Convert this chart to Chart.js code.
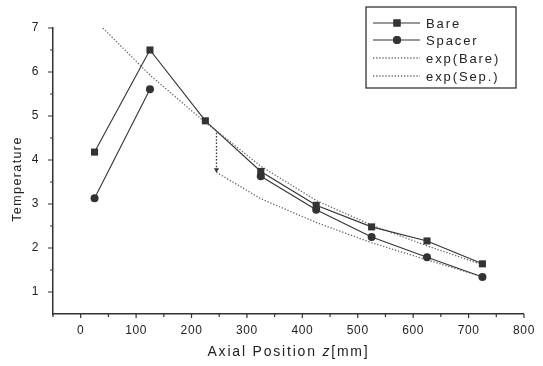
<!DOCTYPE html>
<html><head><meta charset="utf-8">
<script src="https://cdn.jsdelivr.net/npm/chart.js@4/dist/chart.umd.min.js"></script>
<style>html,body{margin:0;padding:0;background:#fff}canvas{display:block}</style>
</head><body>
<canvas id="c" width="543" height="366"></canvas>
<script>
// ---- data ----
const positions   = [25, 125, 225, 325, 425, 525, 625, 725];
const bareTemp    = [4.18, 6.50, 4.89, 3.74, 2.97, 2.48, 2.16, 1.64];
const spacerTemp  = [3.13, 5.61, null, 3.63, 2.87, 2.25, 1.79, 1.34];
const expBareX    = [40, 125, 225, 245, 325, 425, 525, 625, 725];
const expBareY    = [7.00, 5.93, 4.85, 4.66, 3.86, 3.08, 2.52, 2.05, 1.62];
const expSepX     = [245, 325, 425, 525, 625, 725];
const expSepY     = [3.72, 3.12, 2.58, 2.12, 1.73, 1.35];
const arrowX      = [245, 245];
const arrowY      = [4.62, 3.78];
const xMajorTicks = [0, 100, 200, 300, 400, 500, 600, 700, 800];
const xMinorTicks = [-50, 50, 150, 250, 350, 450, 550, 650, 750];
const yMajorTicks = [1, 2, 3, 4, 5, 6, 7];
const yMinorTicks = [1.5, 2.5, 3.5, 4.5, 5.5, 6.5];
const seriesNames = ['Bare', 'Spacer', 'exp(Bare)', 'exp(Sep.)'];

const FONT = '"Liberation Sans", Arial, Helvetica, sans-serif';
const pts = (xs, ys) => xs.map((x, i) => ({x, y: ys[i]}));

const axisDecor = {
  id: 'axisDecor',
  beforeDraw(chart) { chart.ctx.letterSpacing = '0.6px'; },
  afterDraw(chart) {
    const ctx = chart.ctx, xs = chart.scales.x, ys = chart.scales.y;
    const a = chart.chartArea;
    ctx.save();
    ctx.strokeStyle = '#333'; ctx.lineWidth = 1.2;
    ctx.beginPath();
    xMajorTicks.forEach(v => { const p = xs.getPixelForValue(v); ctx.moveTo(p, a.bottom); ctx.lineTo(p, a.bottom + 4); });
    xMinorTicks.forEach(v => { const p = xs.getPixelForValue(v); ctx.moveTo(p, a.bottom - 1); ctx.lineTo(p, a.bottom + 3); });
    yMajorTicks.forEach(v => { const p = ys.getPixelForValue(v); ctx.moveTo(a.left, p); ctx.lineTo(a.left - 5, p); });
    yMinorTicks.forEach(v => { const p = ys.getPixelForValue(v); ctx.moveTo(a.left, p); ctx.lineTo(a.left - 3, p); });
    ctx.stroke();
    // axis titles
    ctx.fillStyle = '#222';
    ctx.textBaseline = 'middle';
    ctx.letterSpacing = '1.8px';
    const parts = [['Axial Position ', 'normal'], ['z', 'italic'], ['[mm]', 'normal']];
    let total = 0;
    parts.forEach(([t, s]) => { ctx.font = s + ' 14px ' + FONT; total += ctx.measureText(t).width; });
    let x0 = (a.left + a.right) / 2 - total / 2;
    ctx.textAlign = 'left';
    parts.forEach(([t, s]) => { ctx.font = s + ' 14px ' + FONT; ctx.fillText(t, x0, 352); x0 += ctx.measureText(t).width; });
    ctx.save();
    ctx.translate(18, (a.top + a.bottom) / 2 + 8);
    ctx.rotate(-Math.PI / 2);
    ctx.textAlign = 'center';
    ctx.letterSpacing = '1.4px';
    ctx.font = '12.5px ' + FONT;
    ctx.fillText('Temperature', 0, 0);
    ctx.restore();
    // legend box
    const bx = 366, by = 7, bw = 150, bh = 81;
    ctx.strokeStyle = '#333'; ctx.lineWidth = 1.3;
    ctx.strokeRect(bx, by, bw, bh);
    const rows = [23, 40, 58, 76];
    ctx.font = '13px ' + FONT; ctx.letterSpacing = '1.9px';
    chart.data.datasets.slice(0, 4).forEach((ds, i) => {
      const ry = rows[i];
      ctx.save();
      ctx.strokeStyle = ds.borderColor; ctx.lineWidth = ds.borderWidth;
      ctx.setLineDash(ds.borderDash || []);
      ctx.beginPath(); ctx.moveTo(373, ry); ctx.lineTo(420, ry); ctx.stroke();
      ctx.restore();
      if (ds.pointRadius > 0) {
        ctx.save(); ctx.fillStyle = ds.pointBackgroundColor;
        Chart.helpers.drawPoint(ctx, {pointStyle: ds.pointStyle, radius: ds.pointRadius, borderWidth: 0}, 397, ry);
        ctx.fill();
        ctx.restore();
      }
      ctx.fillStyle = '#222';
      ctx.fillText(ds.label, 426, ry + 1);
    });
    ctx.restore();
  }
};

new Chart(document.getElementById('c'), {
  type: 'scatter',
  data: {
    datasets: [
      { label: seriesNames[0], data: pts(positions, bareTemp), showLine: true,
        borderColor: '#333', borderWidth: 1.1, pointStyle: 'rect', pointRadius: 5,
        pointBackgroundColor: '#333', pointBorderWidth: 0, spanGaps: false },
      { label: seriesNames[1], data: pts(positions, spacerTemp), showLine: true,
        borderColor: '#333', borderWidth: 1.1, pointStyle: 'circle', pointRadius: 4,
        pointBackgroundColor: '#333', pointBorderWidth: 0, spanGaps: false },
      { label: seriesNames[2], data: pts(expBareX, expBareY), showLine: true,
        borderColor: '#666', borderWidth: 1.3, borderDash: [1.3, 1.8], pointRadius: 0 },
      { label: seriesNames[3], data: pts(expSepX, expSepY), showLine: true,
        borderColor: '#666', borderWidth: 1.3, borderDash: [1.3, 1.8], pointRadius: 0 },
      { label: 'arrow', data: pts(arrowX, arrowY), showLine: true,
        borderColor: '#333', borderWidth: 1.3, borderDash: [1.5, 1.8],
        pointStyle: 'triangle', pointRadius: [0, 3], pointRotation: 180,
        pointBackgroundColor: '#333', pointBorderWidth: 0 }
    ]
  },
  options: {
    responsive: false, animation: false, devicePixelRatio: 1,
    layout: { padding: { top: 28, right: 11, left: 0, bottom: 0 } },
    plugins: { legend: { display: false }, tooltip: { enabled: false } },
    scales: {
      x: {
        type: 'linear', min: -50, max: 800,
        afterBuildTicks: s => { s.ticks = xMajorTicks.map(v => ({value: v})); },
        afterFit: s => { s.height = 52; },
        grid: { display: false, drawTicks: false },
        border: { display: true, color: '#333', width: 1.5 },
        ticks: { padding: 9, color: '#222', font: { family: FONT, size: 12 }, maxRotation: 0 }
      },
      y: {
        type: 'linear', min: 0.5, max: 7,
        afterBuildTicks: s => { s.ticks = yMajorTicks.map(v => ({value: v})); },
        afterFit: s => { s.width = 53; },
        grid: { display: false, drawTicks: false },
        border: { display: true, color: '#333', width: 1.5 },
        ticks: { padding: 14, color: '#222', font: { family: FONT, size: 12 } }
      }
    }
  },
  plugins: [axisDecor]
});
</script>
</body></html>
